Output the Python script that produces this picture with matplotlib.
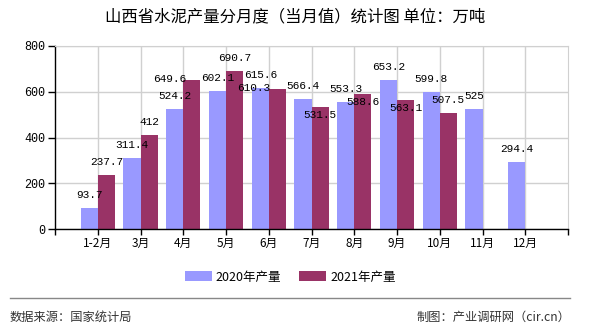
import numpy as np
import matplotlib
matplotlib.use('Agg')
import matplotlib.pyplot as plt

plt.rcParams['font.family'] = ['Noto Sans CJK SC', 'DejaVu Sans']

# data
months = ['1-2月', '3月', '4月', '5月', '6月', '7月', '8月', '9月', '10月', '11月', '12月']
y2020 = [93.7, 311.4, 524.2, 602.1, 615.6, 566.4, 553.3, 653.2, 599.8, 525, 294.4]
y2021 = [237.7, 412, 649.6, 690.7, 610.3, 531.5, 588.6, 563.1, 507.5]
labels2020 = ['93.7', '311.4', '524.2', '602.1', '615.6', '566.4', '553.3', '653.2', '599.8', '525', '294.4']
labels2021 = ['237.7', '412', '649.6', '690.7', '610.3', '531.5', '588.6', '563.1', '507.5']

# label nudges (pixels) where the original moved labels to avoid collisions
nudge2021 = {2: (-22, 1), 4: (-24, 1), 5: (0, -8), 6: (0, -8), 7: (0, -8)}

c2020 = '#9999FF'
c2021 = '#993366'

fig = plt.figure(figsize=(5.9, 3.3), dpi=100)
ax = fig.add_axes([55/590, 1 - 229/330, 513/590, 183/330])

x = np.arange(1, len(months) + 1)
w = 0.4
b1 = ax.bar(x[:len(y2020)] - w/2, y2020, w, color=c2020, label='2020年产量', zorder=2)
b2 = ax.bar(x[:len(y2021)] + w/2, y2021, w, color=c2021, label='2021年产量', zorder=2)

mono = ['Liberation Mono', 'DejaVu Sans Mono']
for xi, v, t in zip(x, y2020, labels2020):
    ax.annotate(t, (xi - w/2, v), xytext=(0, 13), textcoords='offset pixels',
                ha='center', va='center', fontsize=8, family=mono, zorder=3)
for i, (xi, v, t) in enumerate(zip(x, y2021, labels2021)):
    off = nudge2021.get(i, (0, 13))
    ax.annotate(t, (xi + w/2, v), xytext=off, textcoords='offset pixels',
                ha='center', va='center', fontsize=8, family=mono, zorder=3)

ax.set_xlim(0, 12)
ax.set_ylim(0, 800)
ax.set_yticks([0, 200, 400, 600, 800])
ax.set_yticklabels(['0', '200', '400', '600', '800'], family=mono, fontsize=8.5)
ax.set_xticks(x)
ax.set_xticklabels(months, fontsize=8.5)
ax.set_xticks([0, 12], minor=True)
ax.tick_params(axis='x', which='both', length=4, direction='out', width=1, pad=2)
ax.tick_params(axis='y', length=5, direction='out', width=1, pad=2)
ax.grid(True, color='#d0d0d0', linewidth=1, zorder=0)
for s in ['top', 'right']:
    ax.spines[s].set_color('#d0d0d0')
for s in ['left', 'bottom']:
    ax.spines[s].set_color('black')
    ax.spines[s].set_linewidth(1)

fig.text(0.5, 1 - 17/330, '山西省水泥产量分月度（当月值）统计图 单位：万吨',
         ha='center', va='center', fontsize=11.8)

fig.legend(handles=[b1, b2], loc='center', bbox_to_anchor=(290/590, 1 - 277/330),
           ncol=2, frameon=False, fontsize=9, handlelength=2.2, handleheight=0.8,
           columnspacing=1.4, handletextpad=0.3)

fig.add_artist(plt.Line2D([10/590, 570/590], [1 - 298/330, 1 - 298/330],
                          color='#888888', linewidth=1))
fig.text(10/590, 1 - 317/330, '数据来源：国家统计局', ha='left', va='center',
         fontsize=8.8, color='#333333')
fig.text(570/590, 1 - 317/330, '制图：产业调研网（cir.cn）', ha='right', va='center',
         fontsize=8.8, color='#333333')

fig.savefig('out.png', dpi=100)
